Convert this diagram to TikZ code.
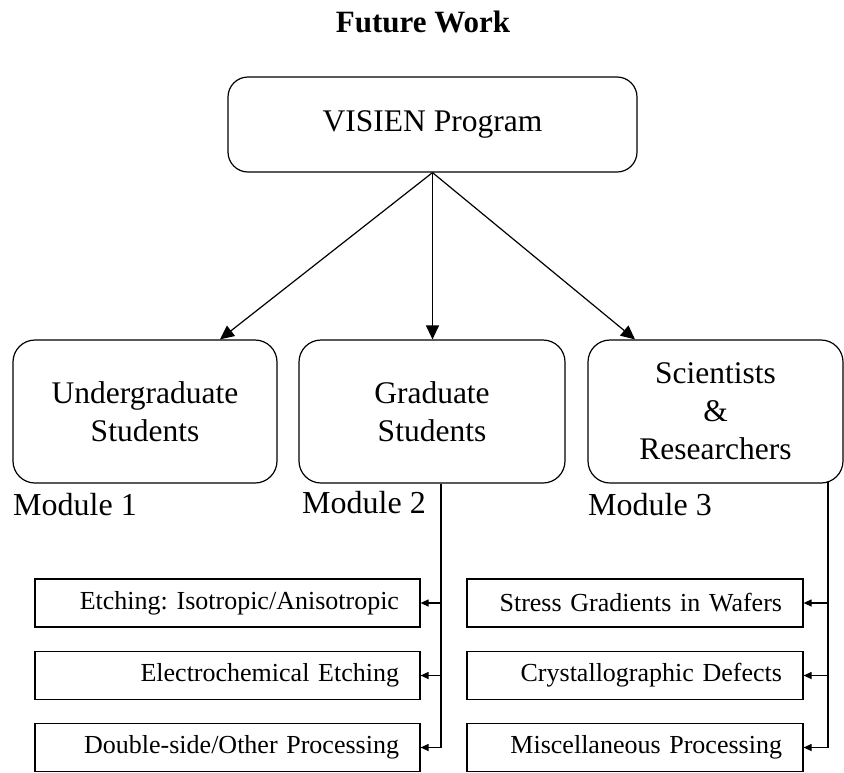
\documentclass[tikz,border=0pt]{standalone}
\usepackage{fontspec}
\setmainfont{Liberation Serif}
\usetikzlibrary{arrows.meta}
\frenchspacing

\tikzset{
  bigbox/.style={draw, line width=1.2pt, rounded corners=22pt, inner sep=0pt,
    align=center, font=\fontsize{31.5}{38}\selectfont},
  topbox/.style={bigbox, rounded corners=20pt, minimum width=409pt, minimum height=95pt},
  groupbox/.style={bigbox, minimum height=143pt},
  topicbox/.style={draw, line width=1.2pt, inner ysep=0pt, inner xsep=21pt,
    minimum height=48pt, align=right, font=\fontsize{26}{30}\selectfont},
  modlabel/.style={anchor=base west, inner sep=0pt, font=\fontsize{32}{38}\selectfont},
  fanarrow/.style={line width=1.2pt, -{Triangle[length=14pt,width=13pt]}},
  branch/.style={line width=1.2pt, -{Triangle[length=8pt,width=7pt]}}
}

\begin{document}
\begin{tikzpicture}[x=1pt,y=-1pt]
  \useasboundingbox (0,0) rectangle (844,772);

  % title
  \node[font=\fontsize{31}{36}\selectfont\bfseries, anchor=base] (title) at (423,32) {Future Work};

  % program and audience groups
  \node[topbox] (prog) at (432.5,124.5) {VISIEN Program};
  \node[groupbox, minimum width=264pt] (ug) at (145,411.5) {Undergraduate\\Students};
  \node[groupbox, minimum width=266pt] (gr) at (432,411.5) {Graduate\\Students};
  \node[groupbox, minimum width=255pt] (sr) at (715.5,411.5) {Scientists\\\&\\Researchers};

  % module labels
  \node[modlabel] (m1) at (13,515) {Module 1};
  \node[modlabel] (m2) at (302,513) {Module 2};
  \node[modlabel] (m3) at (588,515) {Module 3};

  % topics of module 2
  \node[topicbox, text width=343pt] (e1) at (227.5,603) {Etching: Isotropic/Anisotropic};
  \node[topicbox, text width=343pt] (e2) at (227.5,675.5) {Electrochemical Etching};
  \node[topicbox, text width=343pt] (e3) at (227.5,747.5) {Double-side/Other Processing};

  % topics of module 3
  \node[topicbox, text width=294pt] (s1) at (635,603) {Stress Gradients in Wafers};
  \node[topicbox, text width=294pt] (s2) at (635,675.5) {Crystallographic Defects};
  \node[topicbox, text width=294pt] (s3) at (635,747.5) {Miscellaneous Processing};

  % fan-out from the program
  \draw[fanarrow] (prog.south) -- ([xshift=75pt]ug.north);
  \draw[fanarrow] (prog.south) -- (prog.south |- gr.north);
  \draw[fanarrow] (prog.south) -- ([xshift=-80.5pt]sr.north);

  % branches to the topics
  \coordinate (gt) at ([xshift=9pt]gr.south);
  \coordinate (st) at ([xshift=112.5pt,yshift=1.5pt]sr.south);
  \foreach \t in {e1,e2,e3} \draw[branch] (gt) |- (\t.east);
  \foreach \t in {s1,s2,s3} \draw[branch] (st) |- (\t.east);
\end{tikzpicture}
\end{document}
